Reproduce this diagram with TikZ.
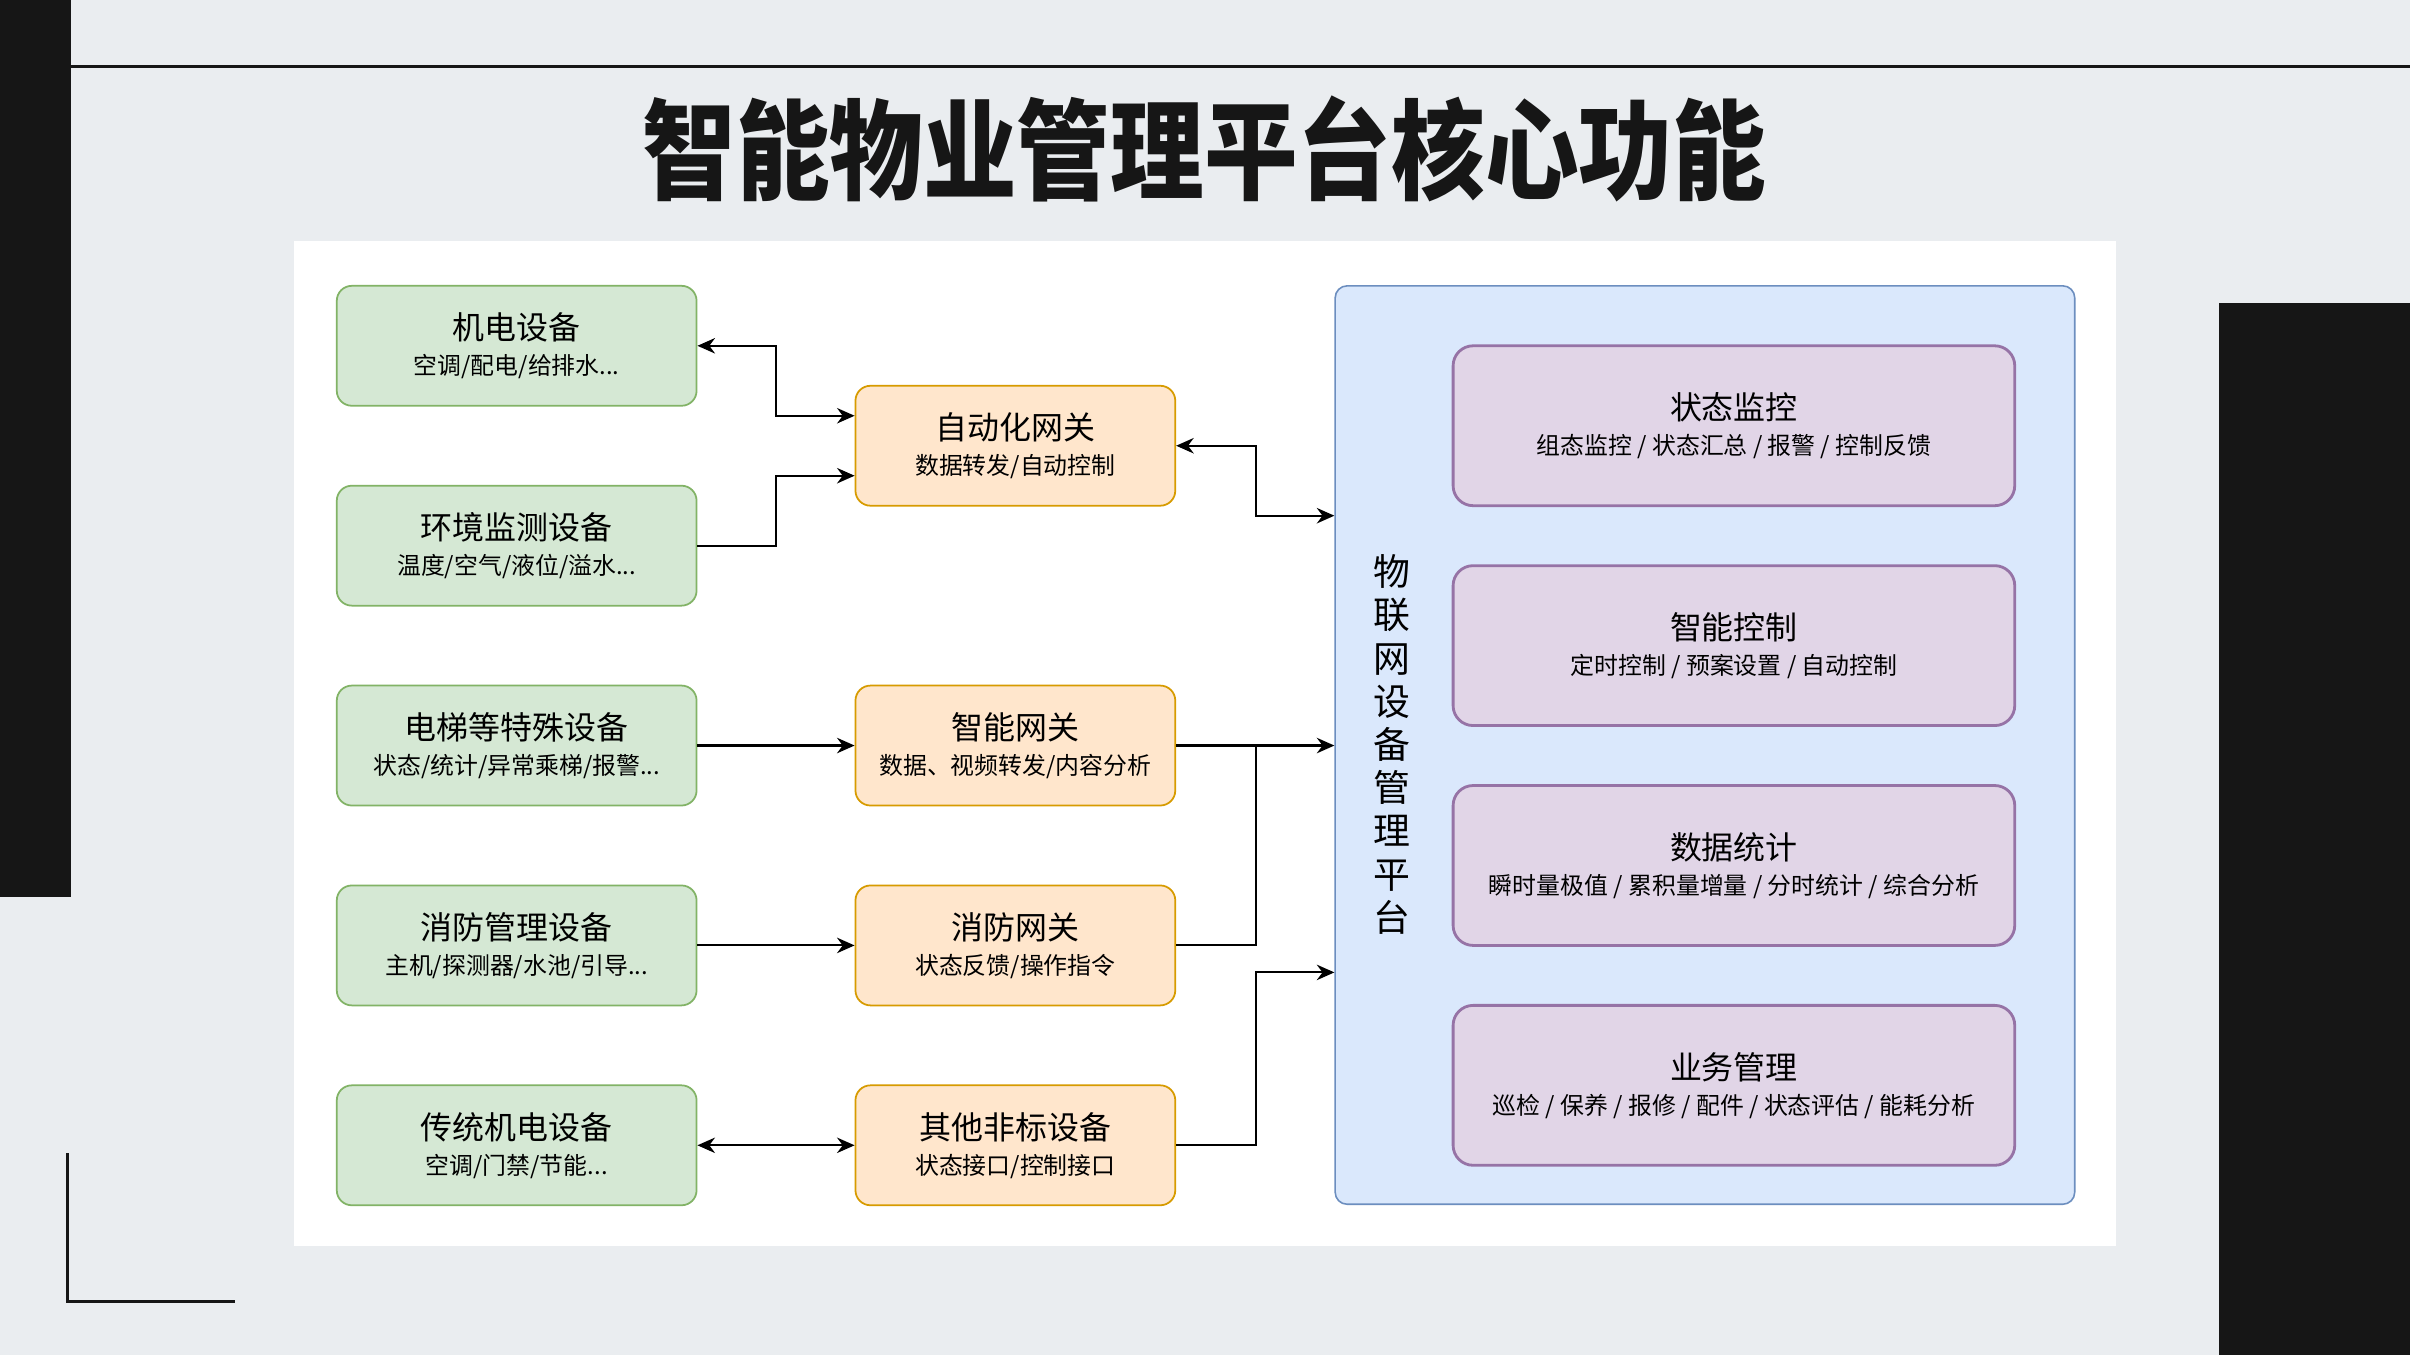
\documentclass[tikz,border=0pt]{standalone}
\usepackage{fontspec}
\setmainfont{Noto Sans CJK SC}
\usepackage{tikz}
\usetikzlibrary{arrows.meta}
\usepackage{xcolor}
\definecolor{pageGray}{HTML}{EAEDF0}
\definecolor{inkBlack}{HTML}{161616}
\definecolor{devFill}{HTML}{D5E8D4}
\definecolor{devLine}{HTML}{82B366}
\definecolor{gateFill}{HTML}{FFE6CC}
\definecolor{gateLine}{HTML}{D79B00}
\definecolor{platFill}{HTML}{DAE8FC}
\definecolor{platLine}{HTML}{6C8EBF}
\definecolor{funcFill}{HTML}{E1D5E7}
\definecolor{funcLine}{HTML}{9673A6}
\newcommand{\headfont}{\fontsize{9.1}{10}\selectfont}

\begin{document}
\begin{tikzpicture}[
  every node/.style={inner sep=0pt, align=center, font=\fontsize{6.8}{10}\selectfont},
  devbox/.style={draw=devLine, fill=devFill, line width=0.5pt, rounded corners=1.5mm,
    minimum width=3.6cm, minimum height=1.2cm},
  gatebox/.style={draw=gateLine, fill=gateFill, line width=0.5pt, rounded corners=1.5mm,
    minimum width=3.2cm, minimum height=1.2cm},
  funcbox/.style={draw=funcLine, fill=funcFill, line width=0.8pt, rounded corners=2mm,
    minimum width=5.62cm, minimum height=1.6cm},
  link/.style={line width=0.6pt, -{Stealth[length=5pt,width=4.4pt]}},
  duplex/.style={line width=0.6pt, {Stealth[length=5pt,width=4.4pt]}-{Stealth[length=5pt,width=4.4pt]}},
  wire/.style={line width=0.6pt}
]
  % page
  \fill[pageGray] (0,0) rectangle (24.11,-13.56);
  \fill[inkBlack] (0,0) rectangle (0.71,-8.98);
  \fill[inkBlack] (22.20,-3.03) rectangle (24.11,-13.56);
  \draw[inkBlack, line width=0.85pt] (0.71,-0.665) -- (24.11,-0.665);
  \draw[inkBlack, line width=0.85pt] (0.675,-11.54) -- (0.675,-13.02) -- (2.35,-13.02);
  \node[font=\fontsize{31}{31}\selectfont\bfseries, xscale=0.86, text=inkBlack] (title)
    at (12.05,-1.49) {智能物业管理平台核心功能};
  \fill[white] (2.94,-2.41) rectangle (21.17,-12.47);

  % devices
  \node[devbox] (dev1) at (5.17,-3.46) {{\headfont 机电设备}\\空调/配电/给排水...};
  \node[devbox] (dev2) at (5.17,-5.46) {{\headfont 环境监测设备}\\温度/空气/液位/溢水...};
  \node[devbox] (dev3) at (5.17,-7.46) {{\headfont 电梯等特殊设备}\\状态/统计/异常乘梯/报警...};
  \node[devbox] (dev4) at (5.17,-9.46) {{\headfont 消防管理设备}\\主机/探测器/水池/引导...};
  \node[devbox] (dev5) at (5.17,-11.46) {{\headfont 传统机电设备}\\空调/门禁/节能...};

  % gateways
  \node[gatebox] (gw1) at (10.16,-4.46) {{\headfont 自动化网关}\\数据转发/自动控制};
  \node[gatebox] (gw2) at (10.16,-7.46) {{\headfont 智能网关}\\数据、视频转发/内容分析};
  \node[gatebox] (gw3) at (10.16,-9.46) {{\headfont 消防网关}\\状态反馈/操作指令};
  \node[gatebox] (gw4) at (10.16,-11.46) {{\headfont 其他非标设备}\\状态接口/控制接口};

  % platform
  \node[draw=platLine, fill=platFill, line width=0.45pt, rounded corners=1.2mm,
    minimum width=7.4cm, minimum height=9.19cm] (plat) at (17.06,-7.455) {};
  \node[font=\fontsize{10.5}{12.3}\selectfont] (platName) at (13.93,-7.45)
    {物\\联\\网\\设\\备\\管\\理\\平\\台};
  \node[funcbox] (fn1) at (17.35,-4.26) {{\headfont 状态监控}\\组态监控 / 状态汇总 / 报警 / 控制反馈};
  \node[funcbox] (fn2) at (17.35,-6.46) {{\headfont 智能控制}\\定时控制 / 预案设置 / 自动控制};
  \node[funcbox] (fn3) at (17.35,-8.66) {{\headfont 数据统计}\\瞬时量极值 / 累积量增量 / 分时统计 / 综合分析};
  \node[funcbox] (fn4) at (17.35,-10.86) {{\headfont 业务管理}\\巡检 / 保养 / 报修 / 配件 / 状态评估 / 能耗分析};

  % connectors
  \draw[duplex] (dev1.east) -- ++(0.79,0) |- ([yshift=3mm]gw1.west);
  \draw[link] (dev2.east) -- ++(0.79,0) |- ([yshift=-3mm]gw1.west);
  \draw[link] (dev3.east) -- (gw2.west);
  \draw[link] (dev4.east) -- (gw3.west);
  \draw[duplex] (dev5.east) -- (gw4.west);
  \draw[duplex] (gw1.east) -- ++(0.8,0) |- ([yshift=2.295cm]plat.west);
  \draw[link] (gw2.east) -- (gw2.east -| plat.west);
  \draw[wire] (gw3.east) -- ++(0.8,0) coordinate (join3) -- (join3 |- gw2.east);
  \draw[link] (gw4.east) -- ++(0.8,0) |- ([yshift=-2.275cm]plat.west);
\end{tikzpicture}
\end{document}
